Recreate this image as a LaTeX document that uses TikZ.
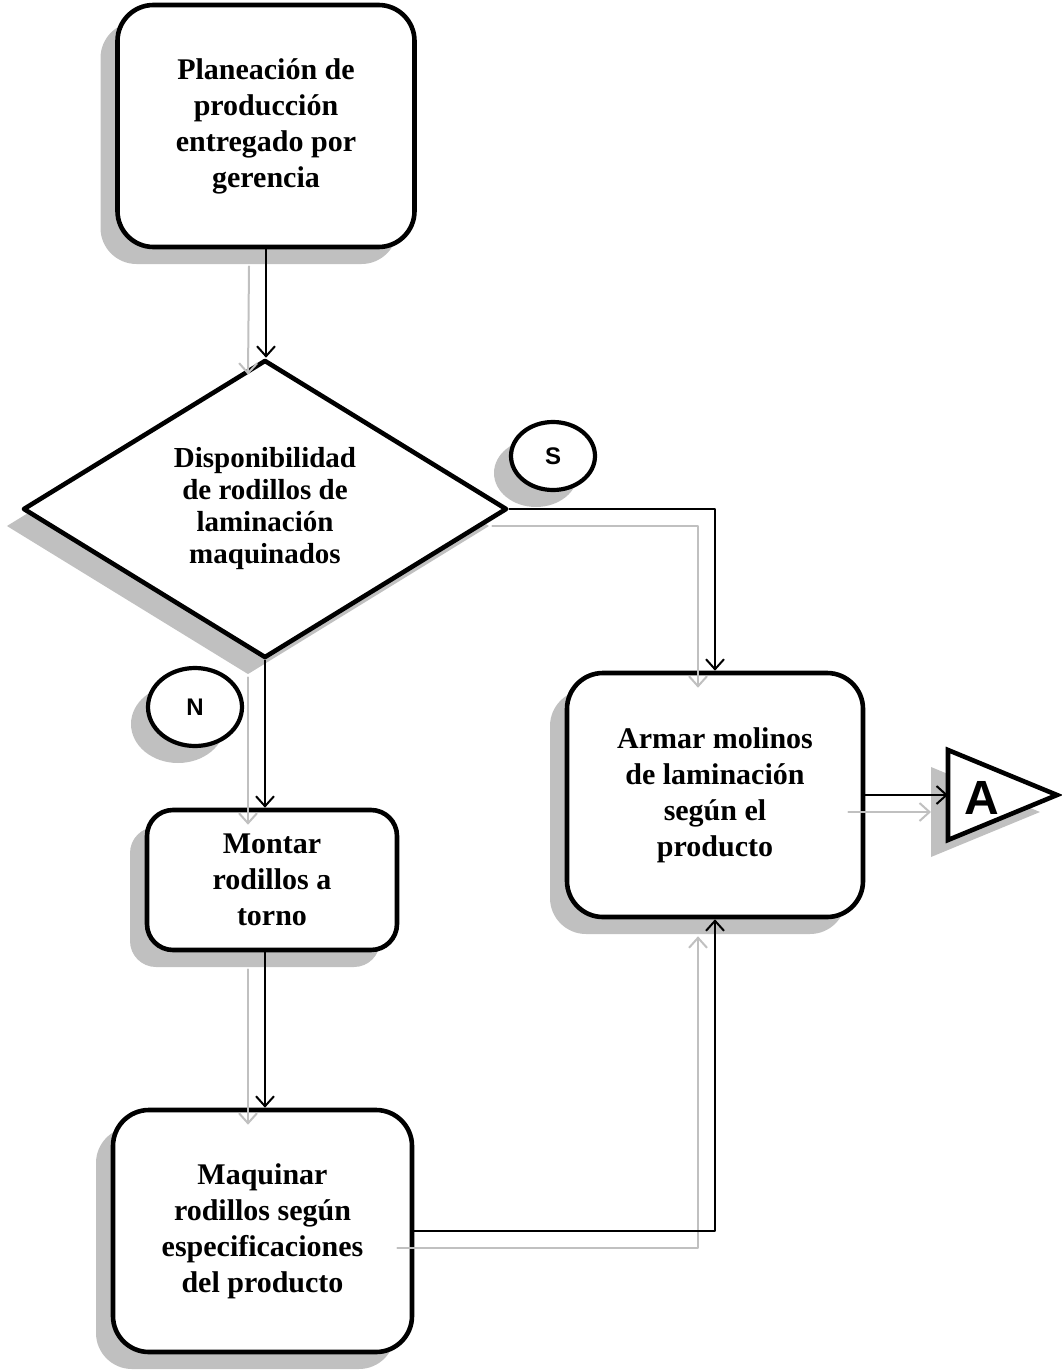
\documentclass[tikz,border=0pt]{standalone}
\usepackage{fontspec}
\setmainfont{Liberation Serif}
\newfontfamily\calfont{Liberation Sans}
\usetikzlibrary{shapes.geometric,shadows,arrows.meta}
\definecolor{sombragris}{HTML}{C0C0C0}
\tikzset{
  sombra/.style={drop shadow={shadow xshift=-8.5pt,shadow yshift=-8.5pt,fill=sombragris,opacity=1}},
  caja/.style={draw,line width=2.3pt,fill=white,rounded corners=18pt,align=center,inner sep=0pt,
    font=\bfseries\fontsize{15}{18}\selectfont,sombra},
  rombo/.style={diamond,draw,line width=2.3pt,fill=white,aspect=1.6,inner sep=0pt,align=center,
    minimum width=242pt,minimum height=149pt,font=\bfseries\fontsize{14.5}{16}\selectfont,sombra},
  circulo/.style={ellipse,draw,line width=2.1pt,fill=white,inner sep=0pt,font=\calfont\bfseries\fontsize{12}{12}\selectfont,sombra},
  flecha/.style={-{Straight Barb[length=5pt,width=9pt]},line width=1pt},
  sombralinea/.style={flecha,draw=sombragris}
}
\begin{document}
\begin{tikzpicture}[line cap=round,line join=round,x=0.5pt,y=-0.5pt]
  \useasboundingbox (0,0) rectangle (1061,1370);
  % pasos del proceso
  \node[caja,minimum width=148.5pt,minimum height=121pt] (plan) at (266,126) {Planeación de\\producción\\entregado por\\gerencia};
  \node[rombo] (dispo) at (265,509) {Disponibilidad\\de rodillos de\\laminación\\maquinados};
  \node[circulo,minimum width=42pt,minimum height=34pt] (si) at (553,456) {S};
  \node[circulo,minimum width=47pt,minimum height=39pt] (no) at (195,707) {N};
  \node[caja,rounded corners=13pt,minimum width=125pt,minimum height=70pt] (montar) at (272,880) {Montar\\rodillos a\\torno};
  \node[caja,minimum width=149.5pt,minimum height=121pt] (maquinar) at (262.5,1231) {Maquinar\\rodillos según\\especificaciones\\del producto};
  \node[caja,minimum width=148pt,minimum height=122pt] (armar) at (715,795) {Armar molinos\\de laminación\\según el\\producto};
  % conector de salida
  \fill[sombragris] (931,767) -- (1040,812) -- (931,857) -- cycle;
  \draw[line width=2.3pt,fill=white,line join=miter] (948,750) -- (1057,795) -- (948,840) -- cycle;
  \coordinate (fin) at (948,795);
  \node[font=\calfont\bfseries\fontsize{24}{24}\selectfont] (letraA) at (982,798) {A};
  % sombras de las flechas
  \draw[sombralinea] ([shift={(-17,17)}]plan.south) -- ([shift={(-17,17)}]dispo.north);
  \draw[sombralinea] ([shift={(-17,17)}]dispo.east) -| ([shift={(-17,17)}]armar.north);
  \draw[sombralinea] ([shift={(-17,17)}]dispo.south) -- ([shift={(-17,17)}]dispo.south |- montar.north);
  \draw[sombralinea] ([shift={(-17,17)}]montar.south -| dispo.south) -- ([shift={(-17,17)}]maquinar.north -| dispo.south);
  \draw[sombralinea] ([shift={(-17,17)}]maquinar.east) -| ([shift={(-17,17)}]armar.south);
  \draw[sombralinea] ([shift={(-17,17)}]armar.east) -- ([shift={(-17,17)}]fin);
  % flechas
  \draw[flecha] (plan.south) -- (plan.south |- dispo.north);
  \draw[flecha] (dispo.east) -| (armar.north);
  \draw[flecha] (dispo.south) -- (dispo.south |- montar.north);
  \draw[flecha] (montar.south -| dispo.south) -- (maquinar.north -| dispo.south);
  \draw[flecha] (maquinar.east) -| (armar.south);
  \draw[flecha] (armar.east) -- (fin);
\end{tikzpicture}
\end{document}
